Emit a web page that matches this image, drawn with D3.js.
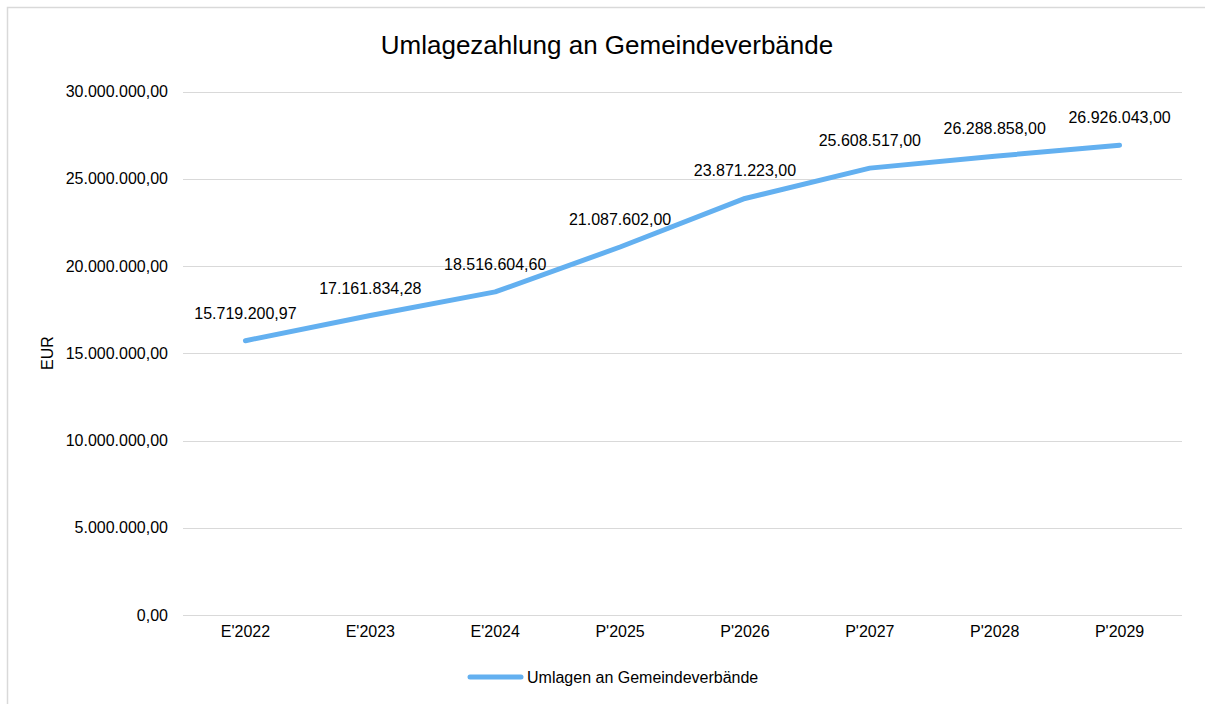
<!DOCTYPE html>
<html><head><meta charset="utf-8">
<script src="https://cdn.jsdelivr.net/npm/d3@7"></script>
<style>body{margin:0;background:#fff}svg{display:block;font-family:"Liberation Sans",Arial,sans-serif}</style>
</head><body><svg id="c" width="1205" height="704"></svg>
<script>
const categories = ["E'2022","E'2023","E'2024","P'2025","P'2026","P'2027","P'2028","P'2029"];
const values = [15719200.97,17161834.28,18516604.60,21087602.00,23871223.00,25608517.00,26288858.00,26926043.00];
const yTicks = [0,5000000,10000000,15000000,20000000,25000000,30000000];
const seriesName = "Umlagen an Gemeindeverbände";
const title = "Umlagezahlung an Gemeindeverbände";
const yTitle = "EUR";

const fmt = v => {
  const parts = v.toFixed(2).split(".");
  return parts[0].replace(/\B(?=(\d{3})+(?!\d))/g, ".") + "," + parts[1];
};

const FS = 16;
const svg = d3.select("#c");
const color = "#63B0F0";
svg.append("rect").attr("x",7.5).attr("y",7.5).attr("width",1210).attr("height",710)
  .attr("fill","#fff").attr("stroke","#d9d9d9").attr("stroke-width",1.5);

const x = d3.scaleBand().domain(categories).range([183,1182]);
const y = d3.scaleLinear().domain([0,30000000]).range([615,91.5]);

svg.append("text").attr("x",607).attr("y",54).attr("text-anchor","middle")
  .attr("font-size",26).attr("fill","#000").text(title);

svg.selectAll("line.grid").data(yTicks).enter().append("line")
  .attr("x1",183).attr("x2",1182).attr("y1",d=>Math.round(y(d))+0.5).attr("y2",d=>Math.round(y(d))+0.5)
  .attr("stroke","#d9d9d9").attr("stroke-width",1);

const yAxis = d3.axisLeft(y).tickValues(yTicks).tickFormat(fmt).tickSize(0).tickPadding(15);
svg.append("g").attr("transform","translate(183,0)").call(yAxis)
  .call(s=>s.select(".domain").remove())
  .selectAll("text").attr("font-size",FS).attr("fill","#000").attr("font-family","Liberation Sans, Arial, sans-serif");

const xAxis = d3.axisBottom(x).tickSize(0).tickPadding(11);
svg.append("g").attr("transform","translate(0,615)").call(xAxis)
  .call(s=>s.select(".domain").remove())
  .selectAll("text").attr("font-size",FS).attr("fill","#000").attr("font-family","Liberation Sans, Arial, sans-serif");

svg.append("text").attr("transform","translate(53,353) rotate(-90)").attr("text-anchor","middle")
  .attr("font-size",FS).attr("fill","#000").text(yTitle);

const pts = categories.map((c,i)=>({c,v:values[i]}));
const line = d3.line().x(d=>x(d.c)+x.bandwidth()/2).y(d=>y(d.v));
svg.append("path").datum(pts).attr("d",line).attr("fill","none").attr("stroke",color)
  .attr("stroke-width",5).attr("stroke-linecap","round").attr("stroke-linejoin","round");

svg.selectAll("text.lbl").data(pts).enter().append("text").attr("class","lbl")
  .attr("x",d=>x(d.c)+x.bandwidth()/2).attr("y",d=>y(d.v)-22).attr("text-anchor","middle")
  .attr("font-size",FS).attr("fill","#000").text(d=>fmt(d.v));

svg.append("line").attr("x1",470).attr("x2",521).attr("y1",677).attr("y2",677)
  .attr("stroke",color).attr("stroke-width",5).attr("stroke-linecap","round");
svg.append("text").attr("x",527).attr("y",682.5).attr("font-size",FS).attr("fill","#000").text(seriesName);
</script></body></html>
